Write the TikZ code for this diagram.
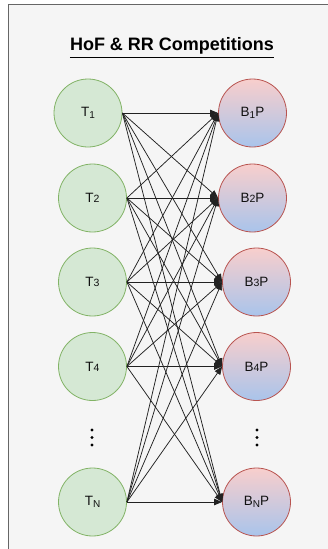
\documentclass[tikz,border=0pt]{standalone}
\usepackage{fontspec}
\setmainfont{Liberation Sans}
\usetikzlibrary{arrows.meta}
\definecolor{panelfill}{HTML}{F5F5F5}
\definecolor{panelline}{HTML}{666666}
\definecolor{tfill}{HTML}{D5E8D4}
\definecolor{tline}{HTML}{82B366}
\definecolor{btop}{HTML}{F8CECC}
\definecolor{bbottom}{HTML}{A9C4EB}
\definecolor{bline}{HTML}{B85450}
\definecolor{edgecol}{HTML}{222222}
\definecolor{labelcol}{HTML}{111111}
\tikzset{
  tnode/.style={circle, minimum size=68pt, inner sep=0pt, draw=tline, line width=0.8pt, fill=tfill, text=labelcol, font=\fontsize{13.5}{15}\selectfont},
  bnode/.style={circle, minimum size=68pt, inner sep=0pt, draw=bline, line width=0.8pt, top color=btop, bottom color=bbottom, text=labelcol, font=\fontsize{13.5}{15}\selectfont},
  link/.style={draw=edgecol, line width=0.75pt, -{Triangle[length=8pt,width=6.5pt]}},
  dotmark/.style={fill=black, draw=none}
}
\newcommand{\sub}[1]{\raisebox{-2.5pt}{\fontsize{10}{11}\selectfont #1}}
\newcommand{\low}[1]{{\fontsize{10.5}{11}\selectfont #1}}
\begin{document}
\begin{tikzpicture}[x=1pt, y=-1pt]
  \useasboundingbox (0,0) rectangle (328,549);
  \clip (0,0) rectangle (328,549);
  \fill[white] (0,0) rectangle (328,549);
  % container panel
  \draw[panelline, fill=panelfill, line width=1pt] (8,4) rectangle (340,560);
  % title
  \node[font=\fontsize{18}{21}\selectfont\bfseries, inner sep=0pt] (title) at (172,46) {HoF \& RR Competitions};
  \draw[black, line width=1.1pt] ([yshift=-2.5pt]title.south west) -- ([yshift=-2.5pt]title.south east);
  % teams
  \node[tnode] (T1) at (88,113) {T\sub{1}};
  \node[tnode] (T2) at (92.5,198) {T\low{2}};
  \node[tnode] (T3) at (92.5,282) {T\low{3}};
  \node[tnode] (T4) at (92.5,366.5) {T\low{4}};
  \node[tnode] (TN) at (92.5,502) {T\sub{N}};
  % players
  \node[bnode] (B1) at (252.5,113) {B\sub{1}P};
  \node[bnode] (B2) at (252.5,198) {B\low{2}P};
  \node[bnode] (B3) at (256.5,282) {B\low{3}P};
  \node[bnode] (B4) at (256.5,366.5) {B\low{4}P};
  \node[bnode] (BN) at (256.5,502) {B\sub{N}P};
  % ellipsis marks
  \foreach \yy in {430,437.5,445} {
    \fill[dotmark] (92,\yy) circle (1.7);
    \fill[dotmark] (257,\yy) circle (1.7);
  }
  % every team linked to every player
  \foreach \t in {T1,T2,T3,T4,TN} {
    \foreach \b in {B1,B2,B3,B4,BN} {
      \draw[link] (\t.east) -- (\b.west);
    }
  }
\end{tikzpicture}
\end{document}
